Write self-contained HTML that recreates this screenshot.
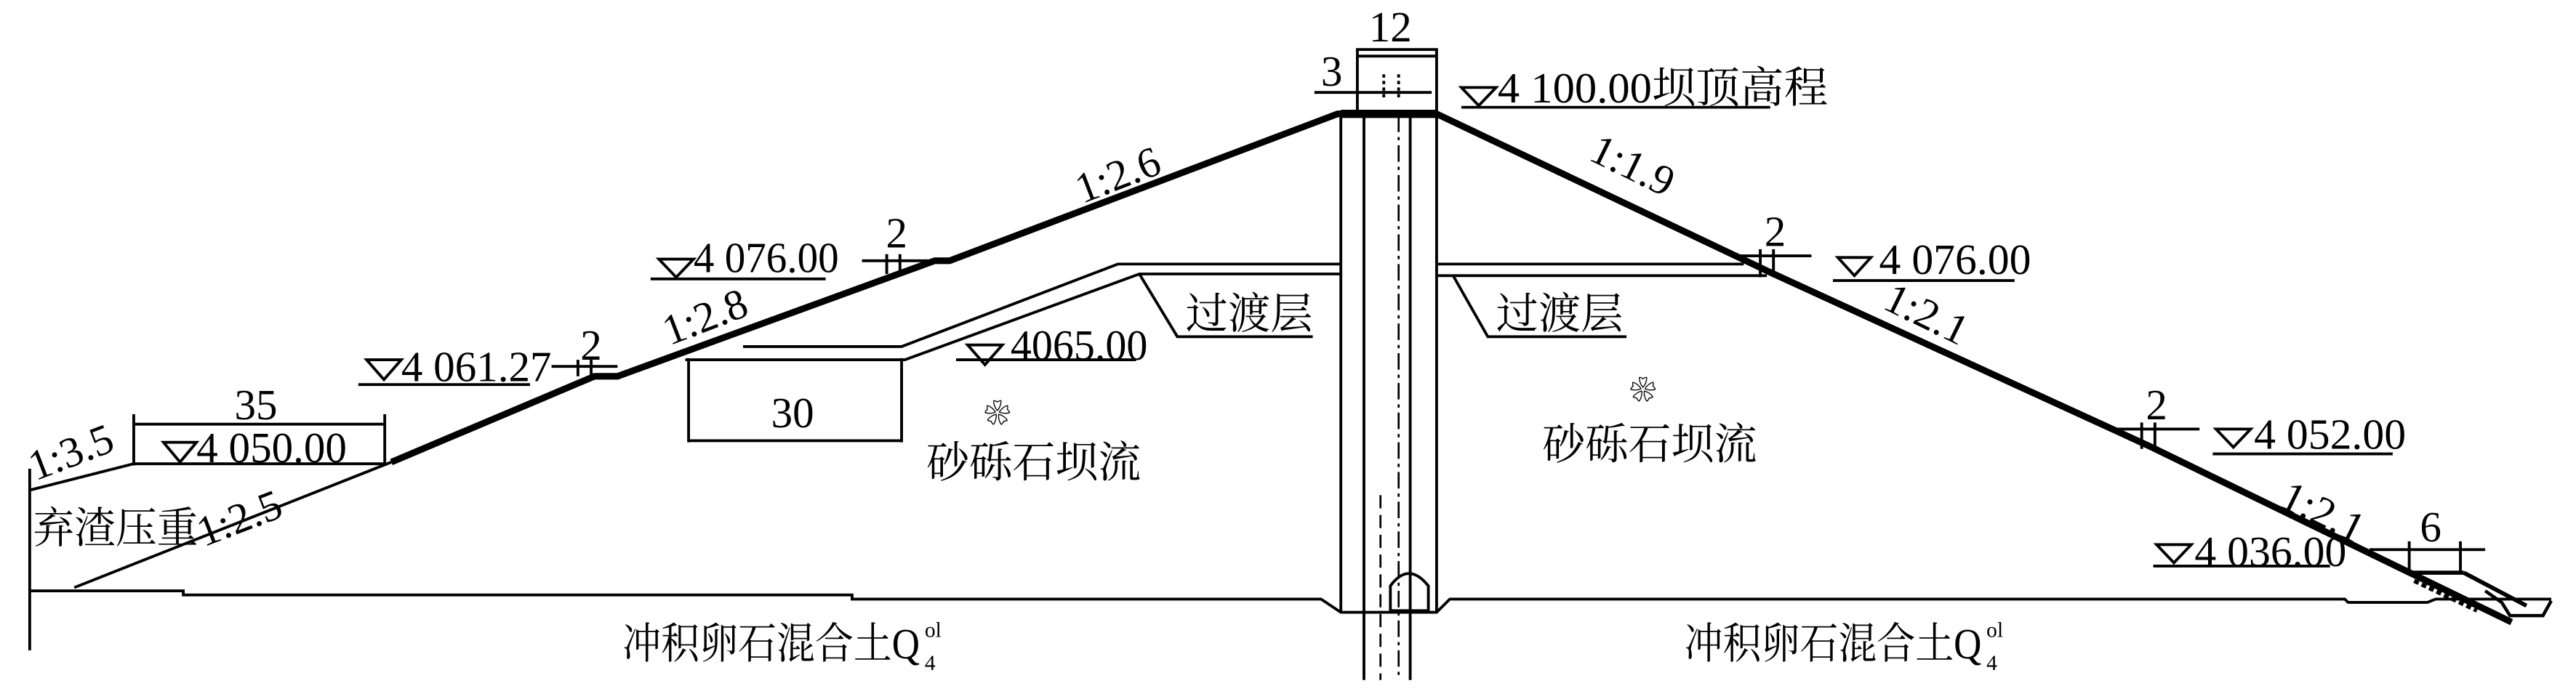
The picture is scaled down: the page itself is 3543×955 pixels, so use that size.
<!DOCTYPE html>
<html><head><meta charset="utf-8"><style>
html,body{margin:0;padding:0;background:#fff;}
svg{display:block;}
text{font-family:"Liberation Serif","Noto Serif CJK SC",serif;fill:#000;}
.cn{font-family:"Liberation Serif","Noto Serif CJK SC","Noto Sans CJK SC",serif;}
</style></head><body>
<svg width="3543" height="955" viewBox="0 0 1560 420.5" preserveAspectRatio="none" xmlns="http://www.w3.org/2000/svg">
<g fill="none" stroke="#000" stroke-width="1.7">
<polyline points="18,358 111,358 111,360.5 516,360.5 516,363 800,363 812,371 870,371 878,363 1420,363 1422,365 1470,365 1475,363 1545,363"/>
<line x1="18" y1="284" x2="18" y2="394"/>
<polyline points="18,297 81,281 233,281"/>
<line x1="237" y1="280" x2="45" y2="356"/>
<line x1="81" y1="257" x2="233" y2="257"/>
<line x1="81" y1="251" x2="81" y2="282"/>
<line x1="233" y1="251" x2="233" y2="282"/>
<polyline points="450,210 546,210 677,160 812,160"/>
<polyline points="415,218 548,218 690,166 812,166"/>
<polyline points="690,166 713,204 795,204"/>
<line x1="417" y1="217" x2="417" y2="268"/>
<line x1="546" y1="217" x2="546" y2="268"/>
<line x1="417" y1="267" x2="546" y2="267"/>
<line x1="579" y1="218" x2="688" y2="218"/>
<polygon points="586,209 607,209 596.5,221"/>
<line x1="217" y1="233" x2="321" y2="233"/>
<polygon points="222,218 243,218 232.5,230"/>
<line x1="334" y1="222" x2="374" y2="222"/>
<line x1="350" y1="218" x2="350" y2="228"/><line x1="358" y1="218" x2="358" y2="228"/>
<line x1="394" y1="169" x2="500" y2="169"/>
<polygon points="399,157 420,157 409.5,168"/>
<line x1="522" y1="158" x2="566" y2="158"/>
<line x1="537" y1="154" x2="537" y2="166"/><line x1="545" y1="154" x2="545" y2="166"/>
<polygon points="99,268 119,268 109,280"/>
<line x1="812" y1="70" x2="812" y2="371"/>
<line x1="870" y1="70" x2="870" y2="371"/>
<line x1="826" y1="70" x2="826" y2="412"/>
<line x1="854" y1="70" x2="854" y2="412"/>
<line x1="847" y1="70" x2="847" y2="412" stroke-dasharray="10,3,2,3" stroke-width="1.2"/>
<line x1="836" y1="300" x2="836" y2="412" stroke-dasharray="8,4" stroke-width="1.2"/>
<path d="M842,370 L842,355 Q853,340 865,355 L865,370 Z"/>
<rect x="822" y="30" width="48" height="39"/>
<line x1="822" y1="34" x2="870" y2="34"/>
<line x1="796" y1="56" x2="867" y2="56"/>
<line x1="838" y1="45" x2="838" y2="60" stroke-dasharray="2,2"/>
<line x1="847" y1="45" x2="847" y2="60" stroke-dasharray="2,2"/>
<line x1="885" y1="65" x2="1072" y2="65"/>
<polygon points="885,53 906,53 895.5,64"/>
<line x1="870" y1="160" x2="1056" y2="160"/>
<line x1="870" y1="167" x2="1070" y2="167"/>
<polyline points="880,167 901,204 985,204"/>
<line x1="1051" y1="155" x2="1097" y2="155"/>
<line x1="1066" y1="151" x2="1066" y2="168"/><line x1="1074" y1="151" x2="1074" y2="168"/>
<polygon points="1113,156 1133,156 1123,167"/>
<line x1="1110" y1="170" x2="1220" y2="170"/>
<line x1="1281" y1="260" x2="1332" y2="260"/>
<line x1="1297" y1="256" x2="1297" y2="272"/><line x1="1305" y1="256" x2="1305" y2="272"/>
<polygon points="1342,260 1363,260 1352.5,271"/>
<line x1="1340" y1="275" x2="1449" y2="275"/>
<polygon points="1306,330 1327,330 1316.5,341"/>
<line x1="1304" y1="343" x2="1411" y2="343"/>
<line x1="1435" y1="333" x2="1505" y2="333"/>
<line x1="1459" y1="328" x2="1459" y2="348"/><line x1="1490" y1="328" x2="1490" y2="348"/>
<line x1="1459" y1="347" x2="1492" y2="347" stroke-width="2.5"/>
<line x1="1492" y1="347" x2="1530" y2="367" stroke-width="2.5"/>
<line x1="1462" y1="352" x2="1500" y2="370" stroke-width="2.5" stroke-dasharray="3,2"/>
<polyline points="1505,358 1515,365 1520,373 1540,373 1545,364" stroke-width="2"/>
</g>
<g fill="none" stroke="#000" stroke-width="4" stroke-linejoin="round">
<polyline points="237,280 360,228 374,228 566,158 575,158 810,69 870,69 1072,165 1301,270 1521,377"/>
<line x1="812" y1="69" x2="870" y2="69" stroke-width="5"/>
</g>
<g font-size="26">
<text x="842" y="25" text-anchor="middle">12</text>
<text x="800" y="52">3</text>
<text x="907" y="62" class="cn" textLength="200" lengthAdjust="spacingAndGlyphs">4 100.00坝顶高程</text>
<text x="420" y="165" textLength="88" lengthAdjust="spacingAndGlyphs">4 076.00</text>
<text x="543" y="150" text-anchor="middle">2</text>
<text x="243" y="231" textLength="91" lengthAdjust="spacingAndGlyphs">4 061.27</text>
<text x="358" y="218" text-anchor="middle">2</text>
<text x="612" y="218" textLength="83" lengthAdjust="spacingAndGlyphs">4065.00</text>
<text x="480" y="259" text-anchor="middle">30</text>
<text x="155" y="254" text-anchor="middle">35</text>
<text x="119" y="280" textLength="91" lengthAdjust="spacingAndGlyphs">4 050.00</text>
<text x="1138" y="166" textLength="92" lengthAdjust="spacingAndGlyphs">4 076.00</text>
<text x="1075" y="149" text-anchor="middle">2</text>
<text x="1365" y="272" textLength="92" lengthAdjust="spacingAndGlyphs">4 052.00</text>
<text x="1306" y="254" text-anchor="middle">2</text>
<text x="1329" y="343" textLength="92" lengthAdjust="spacingAndGlyphs">4 036.00</text>
<text x="1472" y="328" text-anchor="middle">6</text>
<text transform="translate(680,114) rotate(-21)" text-anchor="middle">1:2.6</text>
<text transform="translate(430,200) rotate(-21)" text-anchor="middle">1:2.8</text>
<text transform="translate(46,282) rotate(-21)" text-anchor="middle">1:3.5</text>
<text transform="translate(148,322) rotate(-21)" text-anchor="middle">1:2.5</text>
<text transform="translate(985,108) rotate(26)" text-anchor="middle">1:1.9</text>
<text transform="translate(1163,198) rotate(26)" text-anchor="middle">1:2.1</text>
<text transform="translate(1403,318) rotate(26)" text-anchor="middle">1:2.1</text>
</g>
<g font-size="26" class="cn">
<text x="718" y="199" class="cn" textLength="77" lengthAdjust="spacingAndGlyphs">过渡层</text>
<text x="906" y="199" class="cn" textLength="77" lengthAdjust="spacingAndGlyphs">过渡层</text>
<text x="561" y="289" class="cn" textLength="130" lengthAdjust="spacingAndGlyphs">砂砾石坝流</text>
<text x="934" y="278" class="cn" textLength="130" lengthAdjust="spacingAndGlyphs">砂砾石坝流</text>
<text x="20" y="329" class="cn" textLength="100" lengthAdjust="spacingAndGlyphs">弃渣压重</text>
<text x="377" y="399" class="cn" textLength="180" lengthAdjust="spacingAndGlyphs">冲积卵石混合土Q</text>
<text x="1020" y="399" class="cn" textLength="180" lengthAdjust="spacingAndGlyphs">冲积卵石混合土Q</text>
</g>
<g font-size="13">
<text x="560" y="406">4</text><text x="560" y="386">ol</text>
<text x="1203" y="406">4</text><text x="1203" y="386">ol</text>
</g>
<g font-size="16" font-weight="bold">
<text x="604" y="256" text-anchor="middle">❀</text>
<text x="995" y="242" text-anchor="middle">❀</text>
</g>
</svg>
</body></html>
